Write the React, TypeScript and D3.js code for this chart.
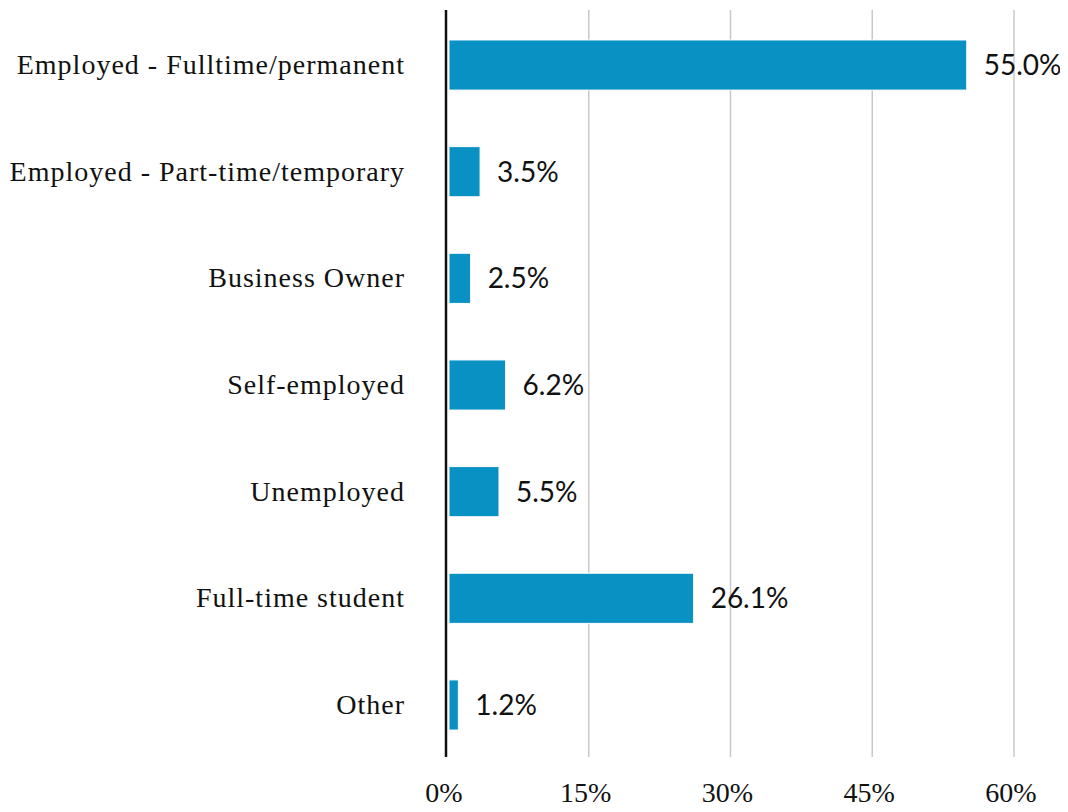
import React, { useEffect, useRef } from "react";
import * as d3 from "d3";

const categories = [
  "Employed - Fulltime/permanent",
  "Employed - Part-time/temporary",
  "Business Owner",
  "Self-employed",
  "Unemployed",
  "Full-time student",
  "Other",
];
const shares = [55.0, 3.5, 2.5, 6.2, 5.5, 26.1, 1.2];
const ticks = [0, 15, 30, 45, 60];

const W = 1068;
const H = 812;
const serif = "'Liberation Serif', 'DejaVu Serif', serif";
const sans = "Lato, 'Noto Sans', sans-serif";

export default function App() {
  const ref = useRef<SVGSVGElement>(null);

  useEffect(() => {
    const svg = d3.select(ref.current);
    svg.selectAll("*").remove();

    const x = d3.scaleLinear().domain([0, 60]).range([447, 1014]);
    const y = d3.scaleBand()
      .domain(categories)
      .range([11.7, 758.3])
      .paddingInner(0.53)
      .paddingOuter(0.265);

    // gridlines
    svg.append("g")
      .selectAll("line")
      .data(ticks.slice(1))
      .enter()
      .append("line")
      .attr("x1", d => x(d))
      .attr("x2", d => x(d))
      .attr("y1", 10)
      .attr("y2", 757)
      .attr("stroke", "#c8c8c8")
      .attr("stroke-width", 1.5);

    // axis line
    svg.append("line")
      .attr("x1", x(0) - 1)
      .attr("x2", x(0) - 1)
      .attr("y1", 10)
      .attr("y2", 757)
      .attr("stroke", "#111")
      .attr("stroke-width", 2.5);

    const rows = categories.map((c, i) => ({ c, v: shares[i] }));

    svg.append("g")
      .selectAll("rect")
      .data(rows)
      .enter()
      .append("rect")
      .attr("x", x(0) + 2)
      .attr("y", d => y(d.c)!)
      .attr("width", d => Math.max(x(d.v) - x(0) - 2, 2))
      .attr("height", y.bandwidth())
      .attr("fill", "#0891c2")
      .attr("stroke", "#fff")
      .attr("stroke-width", 1);

    // value labels
    svg.append("g")
      .selectAll("text")
      .data(rows)
      .enter()
      .append("text")
      .attr("x", d => x(d.v) + 17)
      .attr("y", d => y(d.c)! + y.bandwidth() / 2)
      .attr("dy", "0.36em")
      .attr("font-family", sans)
      .attr("font-size", 28)
      .attr("fill", "#111")
      .text(d => d.v.toFixed(1) + "%");

    // category labels
    svg.append("g")
      .selectAll("text")
      .data(categories)
      .enter()
      .append("text")
      .attr("x", 405)
      .attr("y", d => y(d)! + y.bandwidth() / 2)
      .attr("dy", "0.32em")
      .attr("text-anchor", "end")
      .attr("font-family", serif)
      .attr("font-size", 28)
      .attr("letter-spacing", 1)
      .attr("fill", "#111")
      .text(d => d);

    // x tick labels
    svg.append("g")
      .selectAll("text")
      .data(ticks)
      .enter()
      .append("text")
      .attr("x", d => x(d) - 3)
      .attr("y", 802)
      .attr("text-anchor", "middle")
      .attr("font-family", serif)
      .attr("font-size", 28)
      .style("font-variant-numeric", "oldstyle-nums")
      .attr("fill", "#111")
      .text(d => d + "%");
  }, []);

  return <svg ref={ref} width={W} height={H} style={{ display: "block", margin: -8 }} />;
}
